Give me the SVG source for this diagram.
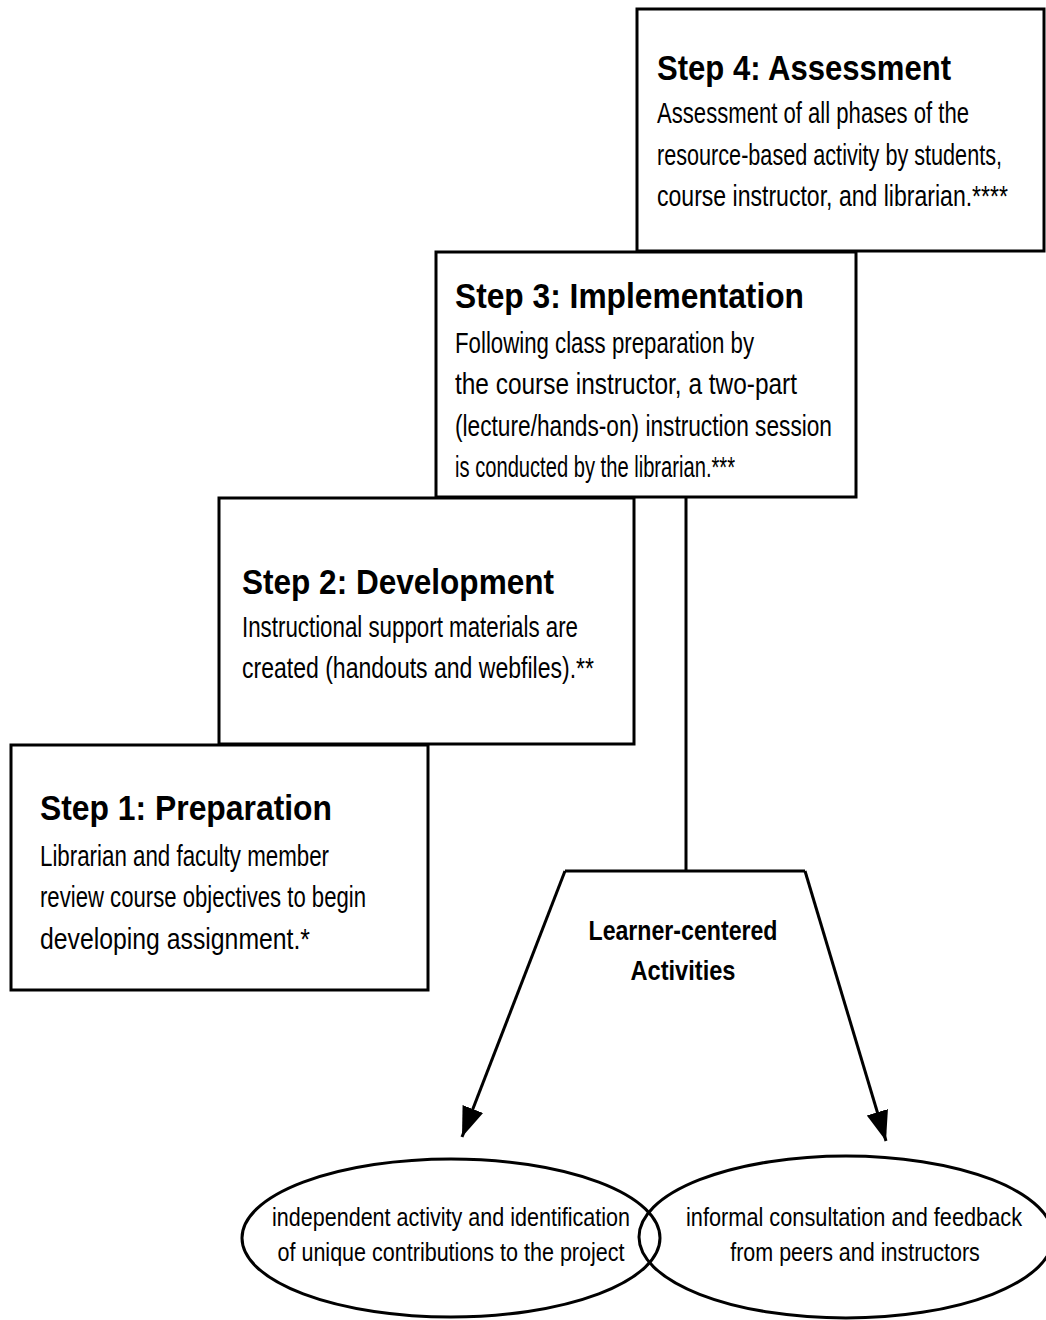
<svg xmlns="http://www.w3.org/2000/svg" width="1046" height="1320" viewBox="0 0 1046 1320">
<style>
.box{fill:#fff;stroke:#000;stroke-width:3}
.title{font-family:"Liberation Sans",Arial,sans-serif;font-weight:bold;font-size:35px;fill:#000}
.body{font-family:"Liberation Sans",Arial,sans-serif;font-size:29px;fill:#000}
.ell{font-family:"Liberation Sans",Arial,sans-serif;font-size:26px;fill:#000;text-anchor:middle}
.lc{font-family:"Liberation Sans",Arial,sans-serif;font-weight:bold;font-size:28px;fill:#000;text-anchor:middle}
.conn{fill:none;stroke:#000;stroke-width:3}
</style>
<defs>
<marker id="arrow" markerUnits="userSpaceOnUse" markerWidth="32" markerHeight="24" refX="30" refY="12" orient="auto">
<path d="M0,1 L30,12 L0,23 z" fill="#000"/>
</marker>
</defs>
<rect width="1046" height="1320" fill="#fff"/>
<g id="step4">
<rect class="box" x="637" y="9" width="407" height="242"/>
<text class="title" x="657" y="80" textLength="294" lengthAdjust="spacingAndGlyphs">Step 4: Assessment</text>
<g transform="translate(657,0) scale(0.75,1)">
<text class="body" x="0" y="123" textLength="416" lengthAdjust="spacingAndGlyphs">Assessment of all phases of the</text>
<text class="body" x="0" y="165" textLength="460" lengthAdjust="spacingAndGlyphs">resource-based activity by students,</text>
<text class="body" x="0" y="206" textLength="468" lengthAdjust="spacingAndGlyphs">course instructor, and librarian.****</text>
</g>
</g>
<g id="step3">
<rect class="box" x="436" y="252" width="420" height="245"/>
<text class="title" x="455" y="308" textLength="349" lengthAdjust="spacingAndGlyphs">Step 3: Implementation</text>
<text class="body" x="455" y="353" textLength="299" lengthAdjust="spacingAndGlyphs">Following class preparation by</text>
<text class="body" x="455" y="394" textLength="342" lengthAdjust="spacingAndGlyphs">the course instructor, a two-part</text>
<text class="body" x="455" y="436" textLength="377" lengthAdjust="spacingAndGlyphs">(lecture/hands-on) instruction session</text>
<text class="body" x="455" y="477" textLength="280" lengthAdjust="spacingAndGlyphs">is conducted by the librarian.***</text>
</g>
<g id="step2">
<rect class="box" x="219" y="498" width="415" height="246"/>
<text class="title" x="242" y="594" textLength="312" lengthAdjust="spacingAndGlyphs">Step 2: Development</text>
<text class="body" x="242" y="637" textLength="336" lengthAdjust="spacingAndGlyphs">Instructional support materials are</text>
<text class="body" x="242" y="678" textLength="352" lengthAdjust="spacingAndGlyphs">created (handouts and webfiles).**</text>
</g>
<g id="step1">
<rect class="box" x="11" y="745" width="417" height="245"/>
<text class="title" x="40" y="820" textLength="292" lengthAdjust="spacingAndGlyphs">Step 1: Preparation</text>
<text class="body" x="40" y="866" textLength="289" lengthAdjust="spacingAndGlyphs">Librarian and faculty member</text>
<text class="body" x="40" y="907" textLength="326" lengthAdjust="spacingAndGlyphs">review course objectives to begin</text>
<text class="body" x="40" y="949" textLength="270" lengthAdjust="spacingAndGlyphs">developing assignment.*</text>
</g>
<g id="connectors">
<path class="conn" d="M686,497 L686,871"/>
<path class="conn" d="M565,871 L805,871"/>
<path class="conn" d="M565,871 L462,1137" marker-end="url(#arrow)"/>
<path class="conn" d="M805,871 L886,1141" marker-end="url(#arrow)"/>
</g>
<g id="learner-centered">
<text class="lc" x="683" y="940" textLength="189" lengthAdjust="spacingAndGlyphs">Learner-centered</text>
<text class="lc" x="683" y="980" textLength="105" lengthAdjust="spacingAndGlyphs">Activities</text>
</g>
<g id="independent">
<ellipse cx="451" cy="1238" rx="209" ry="79" fill="none" stroke="#000" stroke-width="3"/>
<text class="ell" x="451" y="1226" textLength="358" lengthAdjust="spacingAndGlyphs">independent activity and identification</text>
<text class="ell" x="451" y="1261" textLength="347" lengthAdjust="spacingAndGlyphs">of unique contributions to the project</text>
</g>
<g id="informal">
<ellipse cx="846" cy="1237" rx="207" ry="81" fill="none" stroke="#000" stroke-width="3"/>
<g transform="translate(854,0) scale(0.8,1)">
<text class="ell" x="0" y="1226" textLength="420" lengthAdjust="spacingAndGlyphs">informal consultation and feedback</text>
<text class="ell" x="1.25" y="1261" textLength="312" lengthAdjust="spacingAndGlyphs">from peers and instructors</text>
</g>
</g>
</svg>
